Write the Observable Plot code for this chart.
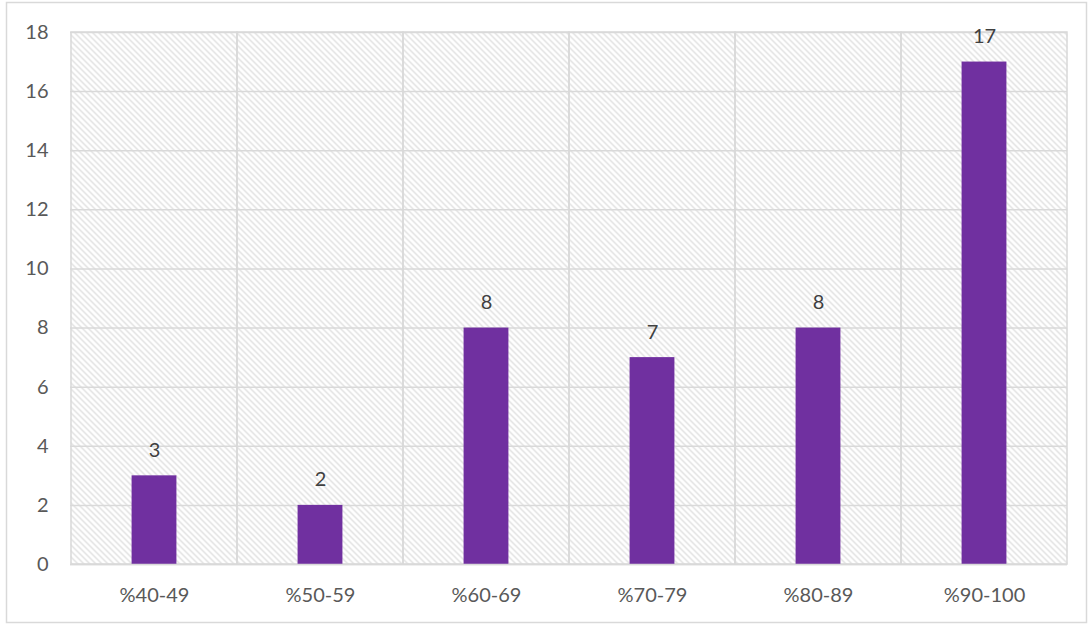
<!DOCTYPE html>
<html>
<head>
<meta charset="utf-8">
<script src="https://cdn.jsdelivr.net/npm/d3@7"></script>
<script src="https://cdn.jsdelivr.net/npm/@observablehq/plot@0.6"></script>
<style>
  body { margin: 0; background: #fff; }
  svg { display: block; }
</style>
</head>
<body>
<div id="chart"></div>
<script>
const categories = ["%40-49", "%50-59", "%60-69", "%70-79", "%80-89", "%90-100"];
const counts = [3, 2, 8, 7, 8, 17];
const yTicks = [0, 2, 4, 6, 8, 10, 12, 14, 16, 18];

const data = categories.map((c, i) => ({category: c, count: counts[i]}));

const W = 1092, H = 626;
const bandW = (1067 - 70) / categories.length;
const barW = 45;
const inset = (bandW - barW) / 2;

const svg = Plot.plot({
  width: W,
  height: H,
  marginLeft: 70,
  marginRight: 25,
  marginTop: 32,
  marginBottom: 62,
  style: {fontFamily: "Lato, 'Open Sans', sans-serif", fontSize: "20px", background: "#fff"},
  x: {domain: categories, padding: 0, label: null},
  y: {domain: [0, 18], label: null},
  marks: [
    Plot.frame({fill: "url(#hatch)", stroke: "none"}),
    Plot.gridY(yTicks, {stroke: "#d9d9d9", strokeOpacity: 1, strokeWidth: 1.5}),
    Plot.barY(categories, {x: d => d, y: 18, fill: "none", stroke: "#d9d9d9", strokeWidth: 1.5}),
    Plot.barY(data, {x: "category", y: "count", fill: "#7030A0", insetLeft: inset, insetRight: inset}),
    Plot.ruleY([0], {stroke: "#d9d9d9", strokeWidth: 1.5}),
    Plot.axisY(yTicks, {tickSize: 0, tickPadding: 22, fontSize: 20, fill: "#595959", label: null}),
    Plot.axisX({tickSize: 0, tickPadding: 23, fontSize: 20, fill: "#595959", label: null}),
    Plot.text(data, {x: "category", y: "count", text: d => String(d.count), lineAnchor: "bottom", dy: -19, fill: "#404040", fontSize: 20})
  ]
});

const s = d3.select(svg);
const pat = s.insert("defs", ":first-child")
  .append("pattern")
  .attr("id", "hatch")
  .attr("patternUnits", "userSpaceOnUse")
  .attr("width", 6)
  .attr("height", 6);
pat.append("rect").attr("width", 6).attr("height", 6).attr("fill", "#ffffff");
pat.append("path")
  .attr("d", "M0,0 L6,6 M-1,5 L1,7 M5,-1 L7,1")
  .attr("stroke", "#d6d6d6")
  .attr("stroke-width", 1.1);

s.append("rect")
  .attr("x", 6.5).attr("y", 2.5)
  .attr("width", 1080).attr("height", 620)
  .attr("fill", "none")
  .attr("stroke", "#d9d9d9")
  .attr("stroke-width", 1.5);

document.getElementById("chart").appendChild(svg);
</script>
</body>
</html>
